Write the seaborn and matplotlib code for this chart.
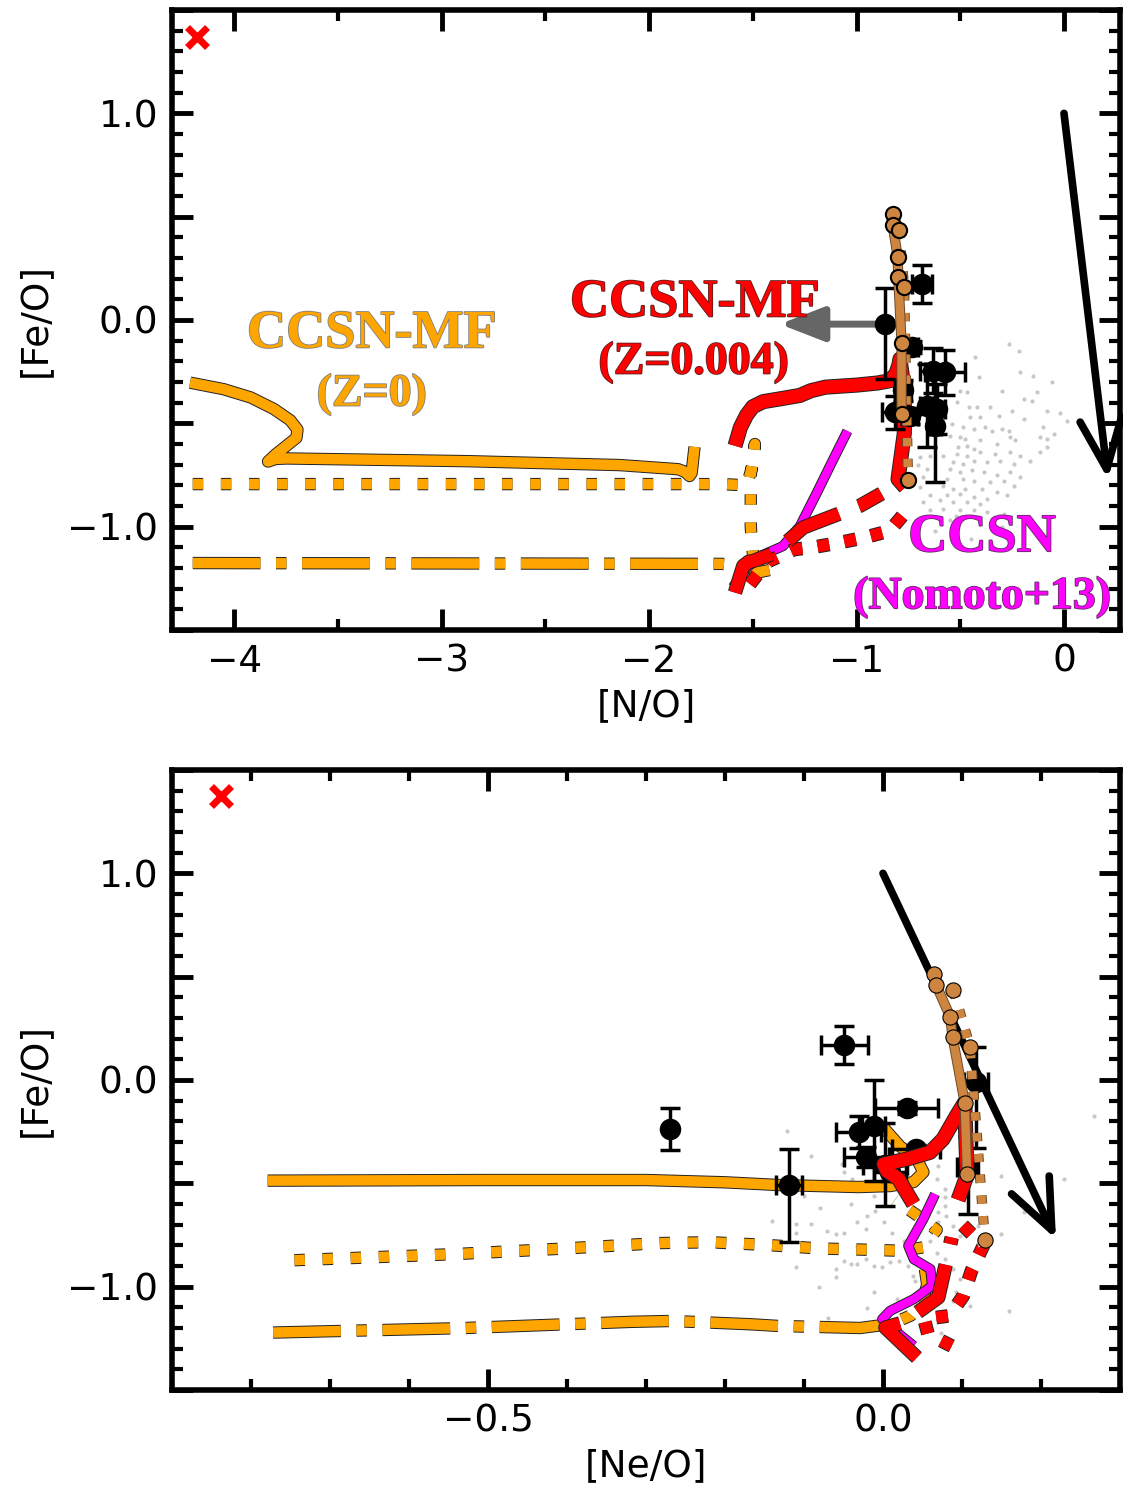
import matplotlib
matplotlib.use("Agg")
import matplotlib.pyplot as plt
import matplotlib.patheffects as pe
from matplotlib.ticker import MultipleLocator, FuncFormatter
import seaborn as sns

sns.set_style("ticks")
plt.rcParams['font.family'] = ['DejaVu Sans']
plt.rcParams.update({'axes.edgecolor': 'black', 'xtick.color': 'black', 'ytick.color': 'black',
                     'text.color': 'black', 'axes.labelcolor': 'black'})

# ---------------- observations ----------------
obs_top_no = [-0.686, -0.863, -0.734, -0.632, -0.574, -0.776, -0.815, -0.743, -0.662, -0.614, -0.622]
obs_top_feo = [0.174, -0.019, -0.132, -0.245, -0.252, -0.340, -0.446, -0.465, -0.415, -0.430, -0.512]
obs_top_no_err = [0.048, 0.0, 0.03, 0.063, 0.096, 0.04, 0.064, 0.04, 0.03, 0.04, 0.03]
obs_top_feo_lo = [0.093, 0.266, 0.03, 0.109, 0.109, 0.05, 0.08, 0.04, 0.20, 0.12, 0.27]
obs_top_feo_hi = [0.093, 0.173, 0.03, 0.109, 0.109, 0.05, 0.08, 0.04, 0.20, 0.12, 0.27]

obs_bot_neo = [-0.049, -0.119, 0.030, -0.031, -0.012, 0.042, -0.021, 0.003, 0.009, 0.118, 0.107, -0.270]
obs_bot_feo = [0.169, -0.508, -0.136, -0.253, -0.221, -0.334, -0.373, -0.410, -0.447, -0.010, -0.422, -0.237]
obs_bot_neo_err = [0.030, 0.016, 0.040, 0.029, 0.015, 0.030, 0.029, 0.028, 0.020, 0.015, 0.013, 0.0]
obs_bot_feo_lo = [0.093, 0.275, 0.03, 0.077, 0.27, 0.02, 0.05, 0.20, 0.04, 0.32, 0.227, 0.10]
obs_bot_feo_hi = [0.093, 0.174, 0.03, 0.077, 0.22, 0.02, 0.05, 0.20, 0.04, 0.17, 0.145, 0.10]

# gray comparison cloud
cloud_top_no = [-0.267, -0.219, -0.428, -0.211, -0.412, -0.501, -0.468, -0.299, -0.130, -0.195, -0.154, -0.517,
                -0.460, -0.420, -0.356, -0.251, -0.082, -0.315, -0.452, -0.404, -0.195, 0.015, -0.541, -0.485,
                -0.436, -0.380, -0.348, -0.299, -0.267, -0.114, -0.050, -0.082, -0.549, -0.501, -0.476, -0.404,
                -0.323, -0.259, -0.235, -0.509, -0.468, -0.436, -0.517, -0.468, -0.404, -0.332, -0.259, -0.211,
                -0.114, -0.082, -0.694, -0.646, -0.581, -0.533, -0.485, -0.436, -0.372, -0.307, -0.243, -0.162,
                -0.702, -0.662, -0.549, -0.501, -0.444, -0.388, -0.323, -0.259, -0.211, -0.678, -0.565, -0.485,
                -0.436, -0.356, -0.291, -0.243, -0.694, -0.581, -0.533, -0.476, -0.396, -0.323, -0.646, -0.565,
                -0.501, -0.436, -0.372, -0.275, -0.678, -0.597, -0.533, -0.468, -0.404, -0.646, -0.581, -0.501,
                -0.436, -0.372, -0.291, -0.06, -0.02, -0.10, -0.15, -0.35, -0.55, -0.62, -0.30, -0.45, -0.52]
cloud_top_feo = [-0.116, -0.149, -0.181, -0.250, -0.277, -0.342, -0.350, -0.342, -0.350, -0.382, -0.390, -0.398,
                 -0.422, -0.422, -0.422, -0.438, -0.438, -0.463, -0.471, -0.471, -0.479, -0.487, -0.503, -0.519,
                 -0.527, -0.519, -0.535, -0.527, -0.535, -0.567, -0.551, -0.575, -0.559, -0.567, -0.575, -0.583,
                 -0.600, -0.567, -0.583, -0.616, -0.608, -0.624, -0.648, -0.656, -0.640, -0.648, -0.640, -0.656,
                 -0.640, -0.616, -0.664, -0.656, -0.656, -0.688, -0.696, -0.680, -0.688, -0.680, -0.696, -0.680,
                 -0.704, -0.720, -0.720, -0.736, -0.728, -0.736, -0.752, -0.736, -0.760, -0.760, -0.769, -0.769,
                 -0.777, -0.785, -0.777, -0.801, -0.809, -0.801, -0.817, -0.817, -0.817, -0.833, -0.849, -0.849,
                 -0.841, -0.857, -0.865, -0.849, -0.881, -0.873, -0.881, -0.881, -0.889, -0.921, -0.913, -0.921,
                 -0.921, -0.929, -0.937, -0.30, -0.45, -0.52, -0.27, -0.98, -0.97, -1.02, -1.0, -1.06, -0.95]

cloud_bot_neo = [-0.121, -0.091, -0.052, -0.050, -0.039, -0.020, -0.012, -0.010, -0.020, -0.033, -0.050, -0.060,
                 -0.071, -0.091, -0.110, -0.110, 0.070, 0.068, 0.078, 0.078, 0.078, 0.080, 0.070, 0.070, 0.089,
                 0.097, 0.108, 0.120, 0.149, 0.149, 0.179, 0.208, 0.229, 0.267, 0.160, 0.110, 0.093, 0.097,
                 0.089, 0.078, 0.068, 0.059, 0.038, 0.026, 0.011, 0.001, -0.022, -0.033, -0.022, -0.033, -0.041,
                 -0.050, -0.012, -0.001, 0.009, 0.020, 0.032, -0.110, -0.060, -0.060, -0.081, -0.012, -0.020,
                 0.018, 0.038, 0.041, 0.051, 0.080, 0.076, 0.074, 0.089, -0.08, -0.10, -0.04, -0.14, -0.07]
cloud_bot_feo = [-0.245, -0.366, -0.407, -0.447, -0.479, -0.528, -0.560, -0.633, -0.657, -0.689, -0.738, -0.746,
                 -0.730, -0.697, -0.697, -0.738, -0.415, -0.479, -0.528, -0.568, -0.608, -0.657, -0.641, -0.689,
                 -0.705, -0.754, -0.705, -0.705, -0.746, -0.463, -0.641, -0.455, -0.479, -0.173, -1.117, -1.093,
                 -1.028, -0.964, -0.915, -0.867, -0.835, -0.778, -0.754, -0.778, -0.738, -0.689, -0.722, -0.802,
                 -0.867, -0.891, -0.891, -0.875, -0.899, -0.907, -0.883, -0.875, -0.899, -0.907, -0.915, -0.955,
                 -1.004, -1.028, -1.101, -1.060, -0.947, -0.971, -0.899, -0.996, -1.125, -1.222, -1.069,
                 -0.62, -0.56, -0.60, -0.68, -1.15]

# ---------------- models: top panel [N/O] ----------------
z0_solid_no = [-4.213, -4.05, -3.92, -3.81, -3.73, -3.695, -3.70, -3.75, -3.80, -3.837, -3.80, -3.745, -2.878,
               -2.141, -1.86, -1.828, -1.805, -1.795, -1.781]
z0_solid_feo = [-0.303, -0.335, -0.375, -0.43, -0.485, -0.53, -0.57, -0.61, -0.65, -0.685, -0.672, -0.670, -0.683,
                -0.702, -0.722, -0.734, -0.755, -0.74, -0.614]
z0_dot_no = [-4.20, -1.65, -1.53, -1.50, -1.49, -1.51, -1.51, -1.50, -1.43]
z0_dot_feo = [-0.794, -0.794, -0.80, -0.70, -0.60, -0.75, -1.00, -1.13, -1.20]
z0_dd_no = [-4.20, -1.65, -1.53, -1.47, -1.42]
z0_dd_feo = [-1.176, -1.180, -1.19, -1.22, -1.21]

z4_solid_no = [-1.586, -1.56, -1.53, -1.50, -1.45, -1.36, -1.273, -1.22, -1.15, -1.0, -0.90, -0.84, -0.81, -0.795,
               -0.791, -0.775, -0.768, -0.770, -0.785, -0.800, -0.765]
z4_solid_feo = [-0.609, -0.52, -0.46, -0.42, -0.395, -0.38, -0.365, -0.342, -0.325, -0.315, -0.305, -0.294, -0.26,
                -0.215, -0.189, -0.300, -0.447, -0.55, -0.66, -0.770, -0.810]
z4_dash_no = [-1.586, -1.565, -1.546, -1.52, -1.498, -1.40, -1.257, -0.984, -0.88]
z4_dash_feo = [-1.319, -1.25, -1.19, -1.17, -1.166, -1.13, -1.004, -0.899, -0.84]
z4_dot_no = [-1.514, -1.43, -1.30, -1.21, -1.08, -0.96, -0.84, -0.758]
z4_dot_feo = [-1.278, -1.17, -1.11, -1.10, -1.077, -1.052, -1.02, -0.923]

nom_no = [-1.044, -1.12, -1.19, -1.273, -1.355, -1.466, -1.53, -1.596]
nom_feo = [-0.537, -0.69, -0.833, -0.998, -1.094, -1.143, -1.20, -1.293]

brown_feo = [0.515, 0.462, 0.436, 0.307, 0.210, 0.162, -0.112, -0.457, -0.772]
brown_no = [-0.826, -0.826, -0.796, -0.802, -0.799, -0.771, -0.783, -0.783, -0.752]
brown_neo = [0.064, 0.067, 0.089, 0.085, 0.088, 0.110, 0.1035, 0.1065, 0.129]
brown_solid_idx = [0, 1, 3, 4, 6, 7]
brown_dot_idx = [2, 5, 8]

# ---------------- models: bottom panel [Ne/O] ----------------
z0_solid_neo = [-0.779, -0.5, -0.3, -0.2, -0.133, -0.031, 0.009, 0.0386, 0.0512, 0.0428, 0.0214, -0.001]
z0_solid_feo_b = [-0.487, -0.484, -0.484, -0.495, -0.508, -0.518, -0.513, -0.494, -0.446, -0.383, -0.320, -0.223]
z0_dot_neo = [-0.745, -0.545, -0.416, -0.282, -0.218, -0.148, -0.081, -0.014, 0.020, 0.036, 0.051, 0.068, 0.041, 0.015]
z0_dot_feo_b = [-0.872, -0.843, -0.818, -0.789, -0.785, -0.798, -0.815, -0.822, -0.826, -0.818, -0.81, -0.725, -0.649, -0.58]
z0_dd_neo = [-0.772, -0.536, -0.317, -0.267, -0.167, -0.133, -0.029, 0.011, 0.035, 0.050, 0.056, 0.053]
z0_dd_feo_b = [-1.222, -1.201, -1.170, -1.166, -1.182, -1.19, -1.20, -1.18, -1.14, -1.07, -0.99, -0.915]

z4_solid_neo = [0.0386, 0.0197, 0.005, 0.001, 0.030, 0.0595, 0.076, 0.093, 0.1035, 0.105, 0.1065, 0.095]
z4_solid_feo_b = [-0.600, -0.479, -0.44, -0.407, -0.383, -0.350, -0.286, -0.173, -0.108, -0.30, -0.46, -0.58]
z4_dash_neo = [0.043, 0.003, 0.026, 0.070, 0.087]
z4_dash_feo_b = [-1.343, -1.198, -1.173, -1.052, -0.762]
z4_dot_neo = [0.087, 0.057, 0.052, 0.084, 0.1015, 0.112, 0.127, 0.089]
z4_dot_feo_b = [-1.287, -1.23, -1.157, -1.141, -1.045, -0.923, -0.802, -0.657]

nom_neo = [0.066, 0.051, 0.032, 0.039, 0.060, 0.062, 0.039, 0.009, -0.001, 0.018, 0.039]
nom_feo_b = [-0.552, -0.673, -0.802, -0.867, -0.915, -0.996, -1.06, -1.117, -1.157, -1.222, -1.287]

# arrows / markers
arrow_top = ((0.0, 1.0), (0.212, -0.77))
arrow_bot = ((0.0, 1.0), (0.219, -0.77))
limit_arrow_top = ((-0.863, -0.02), (-1.37, -0.02))
cross_top = (-4.18, 1.37)
cross_bot = (-0.838, 1.375)

ORANGE = '#FFA500'
RED = '#FF0000'
MAG = '#FF00FF'
BROWN = '#CD853F'


def curve(ax, x, y, color, lw, dashes=None, z=3, edge='#222222'):
    sns.lineplot(x=x, y=y, sort=False, estimator=None, color=color, lw=lw, ax=ax, legend=False, zorder=z)
    ln = ax.lines[-1]
    if dashes is not None:
        ln.set_dashes(dashes)
        ln.set_dash_capstyle('butt')
    ln.set_solid_capstyle('butt')
    ln.set_solid_joinstyle('round')
    ln.set_path_effects([pe.Stroke(linewidth=lw + 1.4, foreground=edge), pe.Normal()])
    return ln


def style_axes(ax, xmajor, xminor, xfmt):
    ax.set_ylim(-1.5, 1.5)
    ax.yaxis.set_major_locator(MultipleLocator(0.5))
    ax.yaxis.set_minor_locator(MultipleLocator(0.1))
    ax.xaxis.set_major_locator(MultipleLocator(xmajor))
    ax.xaxis.set_minor_locator(MultipleLocator(xminor))

    def yf(v, pos):
        if abs(v - round(v)) < 1e-6 and abs(v) < 1.2:
            return f"{round(v):.1f}".replace('-', '\u2212')
        return ''
    ax.yaxis.set_major_formatter(FuncFormatter(yf))
    ax.xaxis.set_major_formatter(FuncFormatter(xfmt))
    ax.tick_params(which='both', direction='in', top=True, right=True, labelsize=27, pad=10, colors='black')
    ax.tick_params(which='major', length=15, width=3.5)
    ax.tick_params(which='minor', length=8, width=3)
    for s in ax.spines.values():
        s.set_linewidth(4)
        s.set_color('black')
        s.set_visible(True)
    ax.set_ylabel('[Fe/O]', fontsize=27, labelpad=10)


def obs(ax, x, y, xe, ylo, yhi):
    ax.errorbar(x, y, xerr=xe, yerr=[ylo, yhi], fmt='none', ecolor='k', elinewidth=2.5,
                capsize=7, capthick=2.5, zorder=6)
    sns.scatterplot(x=x, y=y, color='k', s=240, edgecolor='k', linewidth=0, ax=ax, zorder=7, legend=False)


fig = plt.figure(figsize=(11.23, 14.89), dpi=100)
ax1 = fig.add_axes([172 / 1123, 1 - 630 / 1489, 948 / 1123, 620 / 1489])
ax2 = fig.add_axes([172 / 1123, 1 - 1390 / 1489, 948 / 1123, 620 / 1489])

serif = ['Liberation Serif', 'DejaVu Serif']


def label(ax, x, y, s, size, color, edge):
    ax.text(x, y, s, fontsize=size, family=serif, weight='bold', color=color, ha='center', va='center',
            path_effects=[pe.withStroke(linewidth=1.2, foreground=edge)], zorder=11)


# ================= top panel =================
ax = ax1
sns.scatterplot(x=cloud_top_no, y=cloud_top_feo, color='#c8c8c8', s=9, linewidth=0, ax=ax, zorder=1, legend=False)
curve(ax, z0_solid_no, z0_solid_feo, ORANGE, 7.5, z=3)
curve(ax, z0_dot_no, z0_dot_feo, ORANGE, 7.5, dashes=(1, 1.7), z=3)
curve(ax, z0_dd_no, z0_dd_feo, ORANGE, 7.5, dashes=(6.5, 1.5, 1, 1.5), z=3)
curve(ax, nom_no, nom_feo, MAG, 6, z=4)
curve(ax, z4_dot_no, z4_dot_feo, RED, 8.5, dashes=(1, 1.3), z=4)
curve(ax, z4_dash_no, z4_dash_feo, RED, 9, dashes=(4.7, 1.7), z=4)
curve(ax, z4_solid_no, z4_solid_feo, RED, 9.5, z=5)
obs(ax, obs_top_no, obs_top_feo, obs_top_no_err, obs_top_feo_lo, obs_top_feo_hi)
curve(ax, [brown_no[i] for i in brown_dot_idx], [brown_feo[i] for i in brown_dot_idx], BROWN, 6,
      dashes=(1, 1.5), z=8, edge='#6b4a2a')
curve(ax, [brown_no[i] for i in brown_solid_idx], [brown_feo[i] for i in brown_solid_idx], BROWN, 6,
      z=8, edge='#6b4a2a')
sns.scatterplot(x=brown_no, y=brown_feo, color=BROWN, s=120, edgecolor='k', linewidth=1.5, ax=ax, zorder=9,
                legend=False)
ax.annotate('', xy=limit_arrow_top[1], xytext=limit_arrow_top[0],
            arrowprops=dict(arrowstyle='-|>,head_length=0.9,head_width=0.35', color='#666666', lw=5,
                            mutation_scale=30, shrinkA=0, shrinkB=0), zorder=6)
ax.annotate('', xy=arrow_top[1], xytext=arrow_top[0],
            arrowprops=dict(arrowstyle='->,head_length=0.6,head_width=0.25', color='k', lw=5.5,
                            mutation_scale=60, shrinkA=0, shrinkB=0), zorder=6)
ax.plot(*cross_top, marker='x', color=RED, ms=14, mew=5, ls='none', zorder=10)

label(ax, -3.337, -0.07, 'CCSN-MF', 39, ORANGE, '#808080')
label(ax, -3.337, -0.36, '(Z=0)', 33, ORANGE, '#808080')
label(ax, -1.78, 0.08, 'CCSN-MF', 39, RED, '#5a2020')
label(ax, -1.785, -0.205, '(Z=0.004)', 33, RED, '#5a2020')
label(ax, -0.395, -1.056, 'CCSN', 39, MAG, '#603060')
label(ax, -0.395, -1.341, '(Nomoto+13)', 33, MAG, '#603060')

ax.set_xlim(-4.3, 0.27)
style_axes(ax, 1.0, 0.5, lambda v, p: f"{round(v):d}".replace('-', '\u2212'))
ax.set_xlabel('[N/O]', fontsize=27, labelpad=6)

# ================= bottom panel =================
ax = ax2
sns.scatterplot(x=cloud_bot_neo, y=cloud_bot_feo, color='#c8c8c8', s=9, linewidth=0, ax=ax, zorder=1, legend=False)
curve(ax, z0_solid_neo, z0_solid_feo_b, ORANGE, 7.5, z=3)
curve(ax, z0_dot_neo, z0_dot_feo_b, ORANGE, 7.5, dashes=(1, 1.7), z=3)
curve(ax, z0_dd_neo, z0_dd_feo_b, ORANGE, 7.5, dashes=(6.5, 1.5, 1, 1.5), z=3)
curve(ax, nom_neo, nom_feo_b, MAG, 6, z=4)
curve(ax, z4_dot_neo, z4_dot_feo_b, RED, 8.5, dashes=(1, 1.3), z=4)
curve(ax, z4_dash_neo, z4_dash_feo_b, RED, 9, dashes=(4.7, 1.7), z=4)
obs(ax, obs_bot_neo, obs_bot_feo, obs_bot_neo_err, obs_bot_feo_lo, obs_bot_feo_hi)
curve(ax, z4_solid_neo, z4_solid_feo_b, RED, 9.5, z=7.5)
curve(ax, [brown_neo[i] for i in brown_dot_idx], [brown_feo[i] for i in brown_dot_idx], BROWN, 6,
      dashes=(1, 1.5), z=8, edge='#6b4a2a')
curve(ax, [brown_neo[i] for i in brown_solid_idx], [brown_feo[i] for i in brown_solid_idx], BROWN, 6,
      z=8, edge='#6b4a2a')
sns.scatterplot(x=brown_neo, y=brown_feo, color=BROWN, s=120, edgecolor='k', linewidth=0.8, ax=ax, zorder=9,
                legend=False)
ax.annotate('', xy=arrow_bot[1], xytext=arrow_bot[0],
            arrowprops=dict(arrowstyle='->,head_length=0.6,head_width=0.25', color='k', lw=5.5,
                            mutation_scale=60, shrinkA=0, shrinkB=0), zorder=6)
ax.plot(*cross_bot, marker='x', color=RED, ms=14, mew=5, ls='none', zorder=10)

ax.set_xlim(-0.9, 0.3)
style_axes(ax, 0.5, 0.1, lambda v, p: f"{v:.1f}".replace('-', '\u2212') if abs(v) > 1e-9 else "0.0")
ax.set_xlabel('[Ne/O]', fontsize=27, labelpad=6)

fig.savefig('out.png', dpi=100)
